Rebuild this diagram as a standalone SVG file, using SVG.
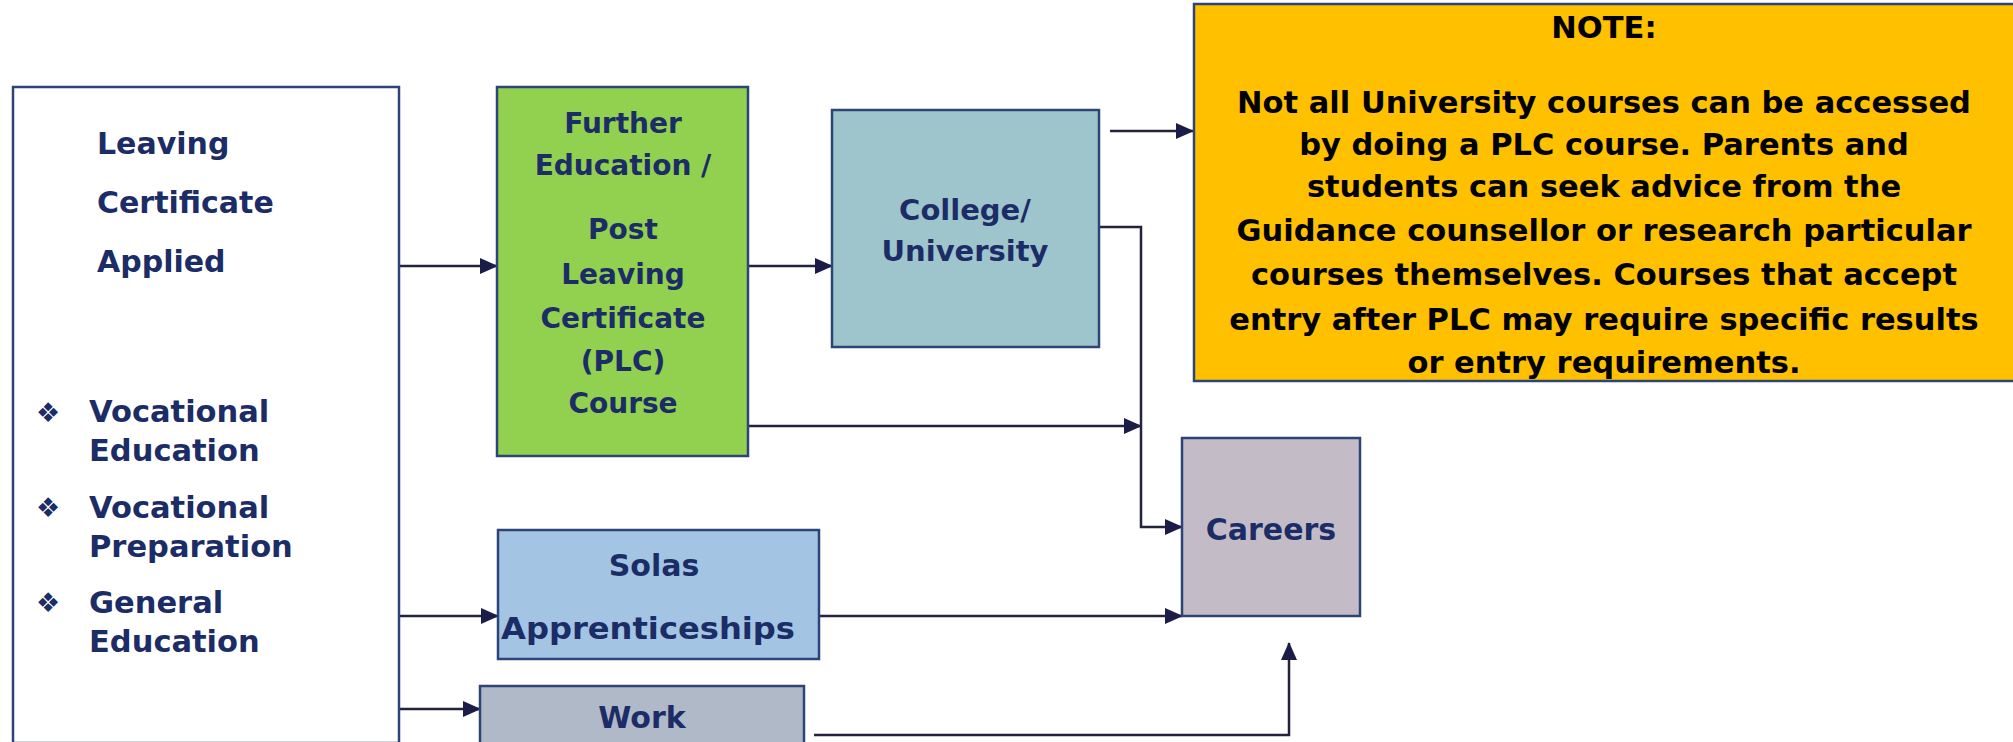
<svg xmlns="http://www.w3.org/2000/svg" width="2013" height="742" viewBox="0 0 2013 742">
<style>
.box{stroke:#2c4478;stroke-width:2.5}
.t{font-family:"DejaVu Sans","Liberation Sans",sans-serif;font-weight:bold;fill:#1b2c66}
.n{font-family:"DejaVu Sans","Liberation Sans",sans-serif;font-weight:bold;fill:#000;font-size:30.5px;text-anchor:middle}
.c{fill:none;stroke:#23233f;stroke-width:2.5}
</style>
<defs>
<marker id="ah" markerWidth="18" markerHeight="16" refX="17" refY="8" orient="auto" markerUnits="userSpaceOnUse">
<path d="M0,0 L18,8 L0,16 Z" fill="#1c1c48"/>
</marker>
</defs>
<rect width="2013" height="742" fill="#fff"/>

<g id="connectors">
<line class="c" x1="399" y1="266" x2="497" y2="266" marker-end="url(#ah)"/>
<line class="c" x1="748" y1="266" x2="832" y2="266" marker-end="url(#ah)"/>
<line class="c" x1="748" y1="426" x2="1141" y2="426" marker-end="url(#ah)"/>
<polyline class="c" points="1099,227 1141,227 1141,527 1182,527" marker-end="url(#ah)"/>
<line class="c" x1="1110" y1="131" x2="1193" y2="131" marker-end="url(#ah)"/>
<line class="c" x1="399" y1="616" x2="498" y2="616" marker-end="url(#ah)"/>
<line class="c" x1="819" y1="616" x2="1182" y2="616" marker-end="url(#ah)"/>
<line class="c" x1="399" y1="709" x2="480" y2="709" marker-end="url(#ah)"/>
<polyline class="c" points="814,735 1289,735 1289,643" marker-end="url(#ah)"/>
</g>

<g id="lca">
<rect class="box" x="13" y="87" width="386" height="656" fill="#fff"/>
<text class="t" font-size="30" x="97" y="154">Leaving</text>
<text class="t" font-size="30" x="97" y="213">Certificate</text>
<text class="t" font-size="30" x="97" y="272">Applied</text>
<text class="t" font-size="27" x="48" y="422" text-anchor="middle">❖</text>
<text class="t" font-size="30.5" x="89" y="422">Vocational</text>
<text class="t" font-size="30.5" x="89" y="461">Education</text>
<text class="t" font-size="27" x="48" y="517" text-anchor="middle">❖</text>
<text class="t" font-size="30.5" x="89" y="518">Vocational</text>
<text class="t" font-size="30.5" x="89" y="557">Preparation</text>
<text class="t" font-size="27" x="48" y="612" text-anchor="middle">❖</text>
<text class="t" font-size="30.5" x="89" y="613">General</text>
<text class="t" font-size="30.5" x="89" y="652">Education</text>
</g>

<g id="plc">
<rect class="box" x="497" y="87" width="251" height="369" fill="#92d050"/>
<g text-anchor="middle">
<text class="t" font-size="28" x="623" y="133">Further</text>
<text class="t" font-size="28" x="623" y="175">Education /</text>
<text class="t" font-size="28" x="623" y="239">Post</text>
<text class="t" font-size="28" x="623" y="284">Leaving</text>
<text class="t" font-size="28" x="623" y="328">Certificate</text>
<text class="t" font-size="28" x="623" y="371">(PLC)</text>
<text class="t" font-size="28" x="623" y="413">Course</text>
</g>
</g>

<g id="college">
<rect class="box" x="832" y="110" width="267" height="237" fill="#9fc5cc"/>
<text class="t" font-size="29" x="965" y="220" text-anchor="middle">College/</text>
<text class="t" font-size="29" x="965" y="261" text-anchor="middle">University</text>
</g>

<g id="note">
<rect class="box" x="1194" y="4" width="825" height="377" fill="#ffc000"/>
<text class="n" x="1604" y="38">NOTE:</text>
<text class="n" x="1604" y="113">Not all University courses can be accessed</text>
<text class="n" x="1604" y="155">by doing a PLC course. Parents and</text>
<text class="n" x="1604" y="197">students can seek advice from the</text>
<text class="n" x="1604" y="241">Guidance counsellor or research particular</text>
<text class="n" x="1604" y="285">courses themselves. Courses that accept</text>
<text class="n" x="1604" y="330">entry after PLC may require specific results</text>
<text class="n" x="1604" y="373">or entry requirements.</text>
</g>

<g id="careers">
<rect class="box" x="1182" y="438" width="178" height="178" fill="#c3bcc7"/>
<text class="t" font-size="30" x="1271" y="540" text-anchor="middle">Careers</text>
</g>

<g id="solas">
<rect class="box" x="498" y="530" width="321" height="129" fill="#a3c4e3"/>
<text class="t" font-size="30" x="654" y="576" text-anchor="middle">Solas</text>
<text class="t" font-size="30" x="648" y="639" text-anchor="middle" textLength="294" lengthAdjust="spacingAndGlyphs">Apprenticeships</text>
</g>

<g id="work">
<rect class="box" x="480" y="686" width="324" height="60" fill="#b0b9c8"/>
<text class="t" font-size="30" x="642" y="728" text-anchor="middle">Work</text>
</g>
</svg>
